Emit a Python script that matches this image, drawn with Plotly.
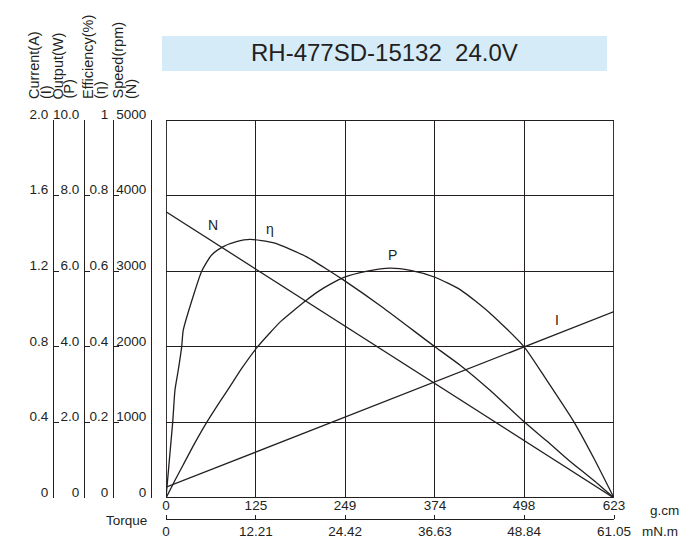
import plotly.graph_objects as go

W, H = 700, 550
INK = "#231f20"
FONT = "Liberation Sans, Arial, Helvetica, sans-serif"

# ---------------- data ----------------
torque_ticks_gcm = [0, 125, 249, 374, 498, 623]
torque_labels_gcm = ["0", "125", "249", "374", "498", "623"]
torque_labels_mnm = ["0", "12.21", "24.42", "36.63", "48.84", "61.05"]

speed_ticks = [0, 1000, 2000, 3000, 4000, 5000]
speed_labels = ["0", "1000", "2000", "3000", "4000", "5000"]
current_ticks = [0, 0.4, 0.8, 1.2, 1.6, 2.0]
current_labels = ["0", "0.4", "0.8", "1.2", "1.6", "2.0"]
output_ticks = [0, 2, 4, 6, 8, 10]
output_labels = ["0", "2.0", "4.0", "6.0", "8.0", "10.0"]
eff_ticks = [0, 0.2, 0.4, 0.6, 0.8, 1.0]
eff_labels = ["0", "0.2", "0.4", "0.6", "0.8", "1"]

# Speed N (rpm)
n_torque = [0, 623]
n_speed = [3787, 0]

# Current I (A)
i_torque = [0, 623]
i_current = [0.057, 0.986]

# Output P (W)
p_torque = [0, 12, 24, 40, 56.6, 75, 90, 105, 126, 145, 160, 180, 195.6, 213,
            228, 246.6, 280, 311.5, 340, 374, 410, 450.6, 498, 530, 567, 595, 623]
p_output = [0, 0.45, 0.88, 1.45, 2.0, 2.55, 2.98, 3.42, 3.97, 4.38, 4.68, 5.0,
            5.24, 5.48, 5.65, 5.83, 6.0, 6.08, 6.02, 5.84, 5.5, 4.89, 4.0, 3.1,
            2.02, 1.05, 0]

# Efficiency (fraction)
e_torque = [0, 9.3, 12.5, 17.1, 21.8, 24, 37.7, 49.6, 63.5, 79.7, 98, 116.8,
            150, 195.6, 228, 246.6, 300, 374, 410, 450.6, 496, 530, 560, 595, 623]
e_eff = [0, 0.20, 0.286, 0.339, 0.40, 0.444, 0.533, 0.60, 0.643, 0.665, 0.678,
         0.684, 0.675, 0.638, 0.60, 0.577, 0.506, 0.40, 0.35, 0.285, 0.205,
         0.15, 0.10, 0.046, 0]

title_text = "RH-477SD-15132  24.0V"


# ---------------- helpers for pixel placement ----------------
def fx(p):
    return p / W


def fy(p):
    return 1 - p / H


PL, PR, PT, PB = 166, 614, 120, 498
xdom = [fx(PL), fx(PR)]
ydom = [fy(PB), fy(PT)]

line_style = dict(color=INK, width=1.3)
curve_style = dict(color=INK, width=1.3, shape="spline", smoothing=0.6)

fig = go.Figure()
fig.add_trace(go.Scatter(x=n_torque, y=n_speed, mode="lines", line=line_style,
                         xaxis="x", yaxis="y", hoverinfo="skip"))
fig.add_trace(go.Scatter(x=i_torque, y=i_current, mode="lines", line=line_style,
                         xaxis="x", yaxis="y2", hoverinfo="skip"))
fig.add_trace(go.Scatter(x=p_torque, y=p_output, mode="lines", line=curve_style,
                         xaxis="x2", yaxis="y3", hoverinfo="skip"))
fig.add_trace(go.Scatter(x=e_torque, y=e_eff, mode="lines", line=curve_style,
                         xaxis="x3", yaxis="y4", hoverinfo="skip"))

tickfont = dict(family=FONT, size=13.5, color=INK)


def left_axis(pos, rng, vals, texts, ticks, overlay=True, grid=False):
    d = dict(domain=ydom, range=rng, anchor="free", position=fx(pos), side="left",
             showline=True, linecolor=INK, linewidth=1.2,
             tickmode="array", tickvals=vals, ticktext=texts,
             ticks=ticks, ticklen=5, tickwidth=1.2, tickcolor=INK,
             tickfont=tickfont, ticklabelshift=-6, ticklabelstandoff=2,
             showgrid=grid, gridcolor=INK, gridwidth=1.2, zeroline=False,
             fixedrange=True, automargin=False)
    if overlay:
        d["overlaying"] = "y"
    return d


fig.update_layout(
    width=W, height=H,
    margin=dict(l=0, r=0, t=0, b=0, autoexpand=False),
    paper_bgcolor="white", plot_bgcolor="white",
    showlegend=False,
    font=dict(family=FONT, color=INK),
    xaxis=dict(domain=xdom, range=[0, 623], anchor="y", automargin=False,
               tickmode="array", tickvals=torque_ticks_gcm,
               showticklabels=False, ticks="", showgrid=True,
               gridcolor=INK, gridwidth=1.2, zeroline=False, showline=False),
    xaxis2=dict(domain=xdom, range=[0, 623], overlaying="x", anchor="free",
                position=fy(519), side="top", showline=True, linecolor=INK,
                linewidth=1.2, tickmode="array", tickvals=torque_ticks_gcm,
                ticktext=torque_labels_gcm, ticks="outside", ticklen=4,
                tickwidth=1.2, tickcolor=INK, tickfont=tickfont, automargin=False,
                ticklabelstandoff=0, showgrid=False, zeroline=False),
    xaxis3=dict(domain=xdom, range=[0, 623], overlaying="x", anchor="free",
                position=fy(519), side="bottom", showline=False, automargin=False,
                tickmode="array", tickvals=torque_ticks_gcm,
                ticktext=torque_labels_mnm, ticks="", tickfont=tickfont,
                ticklabelstandoff=2, showgrid=False, zeroline=False),
    yaxis=left_axis(151, [0, 5000], speed_ticks, speed_labels, "", overlay=False, grid=True),
    yaxis2=left_axis(53, [0, 2], current_ticks, current_labels, "inside"),
    yaxis3=left_axis(84, [0, 10], output_ticks, output_labels, "inside"),
    yaxis4=left_axis(113, [0, 1], eff_ticks, eff_labels, "inside"),
)

# plot border
fig.add_shape(type="rect", xref="x", yref="y", x0=0, x1=623, y0=0, y1=5000,
              line=dict(color=INK, width=1.8), fillcolor="rgba(0,0,0,0)", layer="above")

# title banner
fig.add_shape(type="rect", xref="paper", yref="paper",
              x0=fx(162), x1=fx(607), y0=fy(71), y1=fy(36),
              line=dict(width=0), fillcolor="#d5ebf8", layer="below")
annotations = [
    dict(x=fx(384), y=fy(53), text=title_text, font=dict(family=FONT, size=24, color=INK),
         xanchor="center", yanchor="middle"),
    dict(x=fx(648), y=fy(510), text="g.cm", font=dict(family=FONT, size=13.5, color=INK),
         xanchor="left", yanchor="middle"),
    dict(x=fx(640), y=fy(531), text="mN.m", font=dict(family=FONT, size=13.5, color=INK),
         xanchor="left", yanchor="middle"),
    dict(x=fx(149), y=fy(520), text="Torque", font=dict(family=FONT, size=13.5, color=INK),
         xanchor="right", yanchor="middle"),
    dict(x=fx(213), y=fy(225), text="N", font=dict(family=FONT, size=14, color=INK),
         xanchor="center", yanchor="middle"),
    dict(x=fx(270), y=fy(229), text="η", font=dict(family=FONT, size=14, color=INK),
         xanchor="center", yanchor="middle"),
    dict(x=fx(392), y=fy(255), text="P", font=dict(family=FONT, size=14, color=INK),
         xanchor="center", yanchor="middle"),
    dict(x=fx(557), y=fy(320), text="I", font=dict(family=FONT, size=14, color=INK),
         xanchor="center", yanchor="middle"),
]
# rotated axis titles
rot = [("Current(A)", 34), ("(I)", 46), ("Output(W)", 58), ("(P)", 69),
       ("Efficiency(%)", 88), ("(η)", 100), ("Speed(rpm)", 118), ("(N)", 131)]
for txt, xc in rot:
    annotations.append(dict(x=fx(xc), y=fy(101), text=txt, textangle=-90,
                            font=dict(family=FONT, size=14.5, color=INK),
                            xanchor="center", yanchor="bottom", showarrow=False))
for a in annotations:
    a.setdefault("showarrow", False)
    a["xref"] = "paper"
    a["yref"] = "paper"
fig.update_layout(annotations=annotations)

fig.write_html("out.html", config={"displayModeBar": False},
               post_script="document.body.style.margin='0px';"
                           "document.body.style.overflow='hidden';")
